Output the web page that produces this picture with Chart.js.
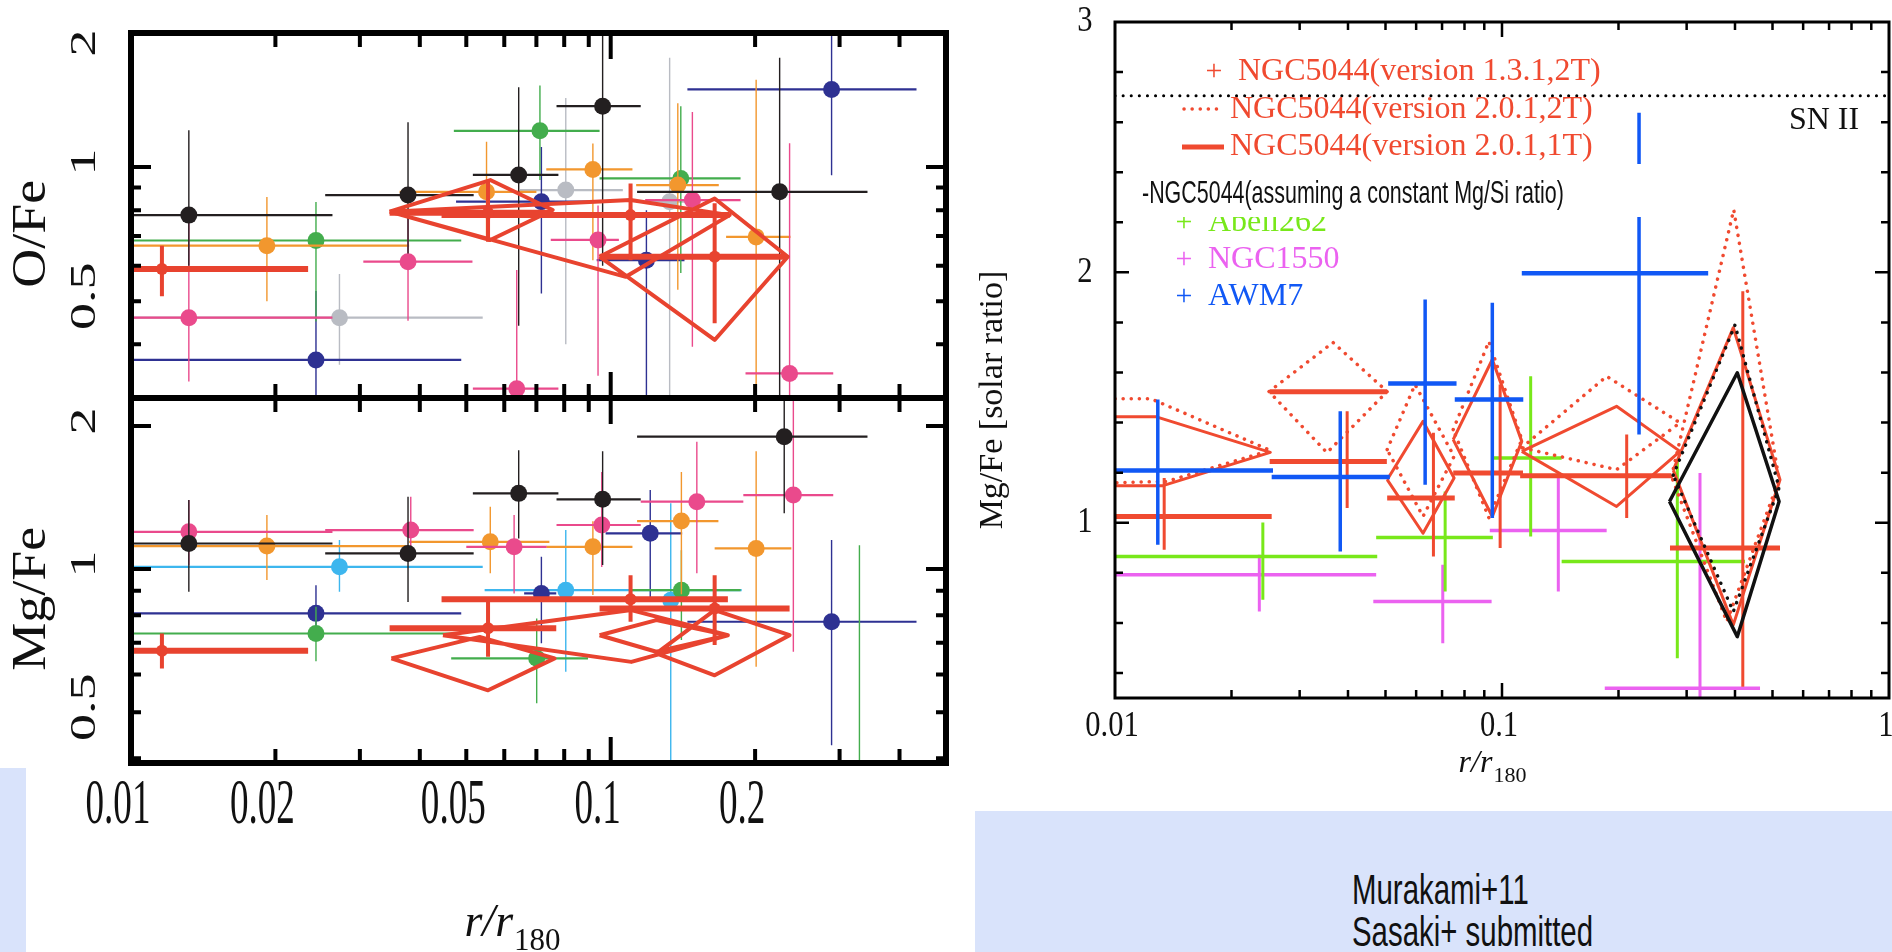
<!DOCTYPE html>
<html>
<head>
<meta charset="utf-8">
<title>O/Fe and Mg/Fe radial profiles</title>
<script src="https://cdn.jsdelivr.net/npm/chart.js@4.4.1/dist/chart.umd.min.js"></script>
<style>
html, body { margin: 0; padding: 0; background: #fff; overflow: hidden; }
#page { position: relative; width: 1892px; height: 952px; background: #fff; }
#page canvas { position: absolute; left: 0; top: 0; }
.band { position: absolute; background: #d9e3fb; }
#cite { position: absolute; left: 1352px; top: 869px; font-family: "Liberation Sans", Arial, sans-serif;
        font-size: 42px; line-height: 42px; color: #111; white-space: nowrap;
        transform: scaleX(0.7); transform-origin: left top; }
</style>
</head>
<body>
<div id="page">
  <div class="band" style="left:0;top:768px;width:26px;height:184px"></div>
  <div class="band" style="left:975px;top:811px;width:917px;height:141px"></div>
  <div id="cite">Murakami+11<br>Sasaki+ submitted</div>
  <canvas id="oFeChart" width="1892" height="952"></canvas>
  <canvas id="mgFeChart" width="1892" height="952"></canvas>
  <canvas id="sasakiChart" width="1892" height="952"></canvas>
</div>
<script>
var SERIF = '"Liberation Serif", "Times New Roman", serif';
var SANS = '"Liberation Sans", Arial, sans-serif';

// ---- Murakami+11 (left), rows: [r/r180, ratio, r low, r high, ratio low, ratio high]
var oFeBlack = [
  [0.0132, 0.78, 0.0101, 0.0263, 0.60, 1.21],
  [0.0378, 0.865, 0.0254, 0.0518, 0.64, 1.26],
  [0.0643, 0.96, 0.0516, 0.0778, 0.44, 1.51],
  [0.0962, 1.37, 0.0771, 0.1155, 0.60, 1.97],
  [0.225, 0.88, 0.1135, 0.343, 0.25, 1.76]
];
var oFeOrange = [
  [0.0192, 0.666, 0.0101, 0.038, 0.50, 0.857],
  [0.0551, 0.88, 0.0363, 0.070, 0.685, 1.14],
  [0.0918, 0.988, 0.0734, 0.111, 0.618, 1.13],
  [0.138, 0.911, 0.113, 0.168, 0.53, 1.39],
  [0.201, 0.697, 0.174, 0.237, 0.25, 1.57]
];
var oFeGreen = [
  [0.0243, 0.684, 0.0101, 0.0488, 0.45, 0.835],
  [0.0712, 1.206, 0.0471, 0.0948, 0.935, 1.524],
  [0.140, 0.943, 0.0948, 0.1865, 0.578, 1.37]
];
var oFePink = [
  [0.0132, 0.459, 0.0101, 0.0263, 0.33, 0.771],
  [0.0378, 0.613, 0.0305, 0.0515, 0.452, 0.771],
  [0.0637, 0.318, 0.0516, 0.0778, 0.25, 0.587],
  [0.0941, 0.686, 0.075, 0.104, 0.34, 0.82],
  [0.148, 0.843, 0.118, 0.1865, 0.395, 1.33],
  [0.236, 0.344, 0.191, 0.291, 0.25, 1.131]
];
var oFeGrey = [
  [0.0272, 0.459, 0.0101, 0.0541, 0.36, 0.575],
  [0.0806, 0.888, 0.0647, 0.106, 0.40, 1.43],
  [0.1327, 0.836, 0.118, 0.154, 0.25, 1.76]
];
var oFeNavy = [
  [0.0243, 0.369, 0.0101, 0.0488, 0.25, 0.527],
  [0.0717, 0.836, 0.0476, 0.0948, 0.52, 1.11],
  [0.1187, 0.618, 0.0935, 0.1425, 0.25, 0.80],
  [0.2887, 1.494, 0.1445, 0.434, 0.959, 2.0]
];
var oFeRed = [
  [0.0116, 0.59, 0.0101, 0.0234, 0.513, 0.666],
  [0.0555, 0.79, 0.0346, 0.0757, 0.68, 0.935],
  [0.110, 0.78, 0.0444, 0.177, 0.618, 0.919],
  [0.1647, 0.629, 0.0948, 0.232, 0.446, 0.829]
];
var oFeRedShapes = [
  [[0.0346, 0.794], [0.0561, 0.935], [0.0757, 0.801], [0.0561, 0.686], [0.0346, 0.794]],
  [[0.0346, 0.794], [0.110, 0.843], [0.177, 0.780], [0.1075, 0.567], [0.0346, 0.794]],
  [[0.0948, 0.629], [0.1647, 0.850], [0.234, 0.629], [0.1647, 0.409], [0.0948, 0.629]]
];

var mgFeBlack = [
  [0.0132, 1.132, 0.0101, 0.0263, 0.896, 1.397],
  [0.0378, 1.079, 0.0254, 0.0518, 0.853, 1.42],
  [0.0643, 1.443, 0.0516, 0.0778, 1.16, 1.778],
  [0.0962, 1.402, 0.0771, 0.1155, 1.02, 1.77],
  [0.230, 1.899, 0.1135, 0.343, 1.31, 2.4]
];
var mgFePink = [
  [0.0132, 1.198, 0.0101, 0.0263, 1.02, 1.397],
  [0.0383, 1.208, 0.0254, 0.0518, 1.06, 1.42],
  [0.0629, 1.114, 0.050, 0.0735, 0.889, 1.30],
  [0.0958, 1.238, 0.0771, 0.1155, 1.01, 1.60],
  [0.1512, 1.386, 0.1155, 0.189, 0.98, 1.853],
  [0.2403, 1.431, 0.189, 0.291, 0.67, 2.4]
];
var mgFeOrange = [
  [0.0192, 1.118, 0.0101, 0.038, 0.948, 1.30],
  [0.0561, 1.141, 0.038, 0.0745, 0.98, 1.353],
  [0.0918, 1.114, 0.0734, 0.111, 0.882, 1.26],
  [0.1404, 1.262, 0.1135, 0.1677, 0.885, 1.60],
  [0.201, 1.105, 0.1647, 0.238, 0.623, 1.77]
];
var mgFeCyan = [
  [0.0272, 1.011, 0.0101, 0.0541, 0.896, 1.151],
  [0.0806, 0.903, 0.0546, 0.1875, 0.608, 1.208],
  [0.1334, 0.86, 0.118, 0.152, 0.30, 1.375]
];
var mgFeNavy = [
  [0.0243, 0.807, 0.0101, 0.0488, 0.72, 0.925],
  [0.0717, 0.889, 0.066, 0.077, 0.698, 1.061],
  [0.1209, 1.189, 0.0976, 0.1409, 0.86, 1.467],
  [0.2887, 0.775, 0.1445, 0.434, 0.426, 1.151]
];
var mgFeGreen = [
  [0.0243, 0.732, 0.0101, 0.0488, 0.64, 0.833],
  [0.0701, 0.649, 0.0465, 0.0897, 0.522, 0.787],
  [0.1404, 0.903, 0.110, 0.1865, 0.709, 1.096],
  [0.330, 0.35, 0.30, 0.36, 0.30, 1.123]
];
var mgFeRed = [
  [0.0116, 0.673, 0.0101, 0.0234, 0.618, 0.732],
  [0.0555, 0.751, 0.0346, 0.077, 0.654, 0.853],
  [0.110, 0.864, 0.0444, 0.1755, 0.775, 0.971],
  [0.1647, 0.826, 0.0948, 0.236, 0.692, 0.971]
];
var mgFeRedShapes = [
  [[0.0349, 0.649], [0.0533, 0.720], [0.0764, 0.649], [0.0555, 0.556], [0.0349, 0.649]],
  [[0.0447, 0.726], [0.1104, 0.820], [0.1755, 0.726], [0.1104, 0.638], [0.0447, 0.726]],
  [[0.0948, 0.726], [0.1245, 0.781], [0.1755, 0.726], [0.1245, 0.670], [0.0948, 0.726]],
  [[0.1245, 0.665], [0.1647, 0.820], [0.236, 0.726], [0.1647, 0.598], [0.1245, 0.665]]
];

// ---- Sasaki+ (right)
var ngc5044Cross = [
  [0.0134, 1.025, 0.0099, 0.0254, 0.892, 1.179],
  [0.0398, 1.245, 0.0251, 0.0504, 1.059, 1.445],
  [0.0356, 1.523, 0.0251, 0.0505, 1.523, 1.523],
  [0.0665, 1.099, 0.0505, 0.0755, 0.865, 1.359],
  [0.0989, 1.199, 0.0748, 0.1133, 0.899, 1.552],
  [0.210, 1.188, 0.1114, 0.274, 1.019, 1.352],
  [0.419, 0.899, 0.2717, 0.5228, 0.345, 1.925]
];
var ngc5044Solid = [
  [[0.01, 1.423], [0.0128, 1.423], [0.0252, 1.281], [0.0133, 1.148], [0.01, 1.148]],
  [[0.0505, 1.172], [0.0625, 1.405], [0.0752, 1.179], [0.0625, 0.958], [0.0505, 1.172]],
  [[0.0748, 1.332], [0.0944, 1.652], [0.1125, 1.325], [0.0944, 1.025], [0.0748, 1.332]],
  [[0.1125, 1.285], [0.1977, 1.465], [0.2884, 1.285], [0.1977, 1.065], [0.1125, 1.285]],
  [[0.277, 1.21], [0.396, 1.779], [0.5228, 1.172], [0.396, 0.592], [0.277, 1.21]]
];
var ngc5044Dotted = [
  [[0.01, 1.495], [0.0124, 1.495], [0.0252, 1.289], [0.0136, 1.165], [0.01, 1.16]],
  [[0.025, 1.524], [0.0366, 1.72], [0.0505, 1.524], [0.0353, 1.28], [0.025, 1.524]],
  [[0.0505, 1.292], [0.0596, 1.552], [0.0752, 1.265], [0.0625, 1.025], [0.0505, 1.292]],
  [[0.0748, 1.372], [0.0925, 1.724], [0.1125, 1.332], [0.0925, 1.02], [0.0748, 1.372]],
  [[0.1125, 1.30], [0.1864, 1.585], [0.2884, 1.399], [0.1977, 1.212], [0.1125, 1.30]],
  [[0.2742, 1.185], [0.397, 2.25], [0.52, 1.172], [0.381, 0.605], [0.2742, 1.185]]
];
var constMgSiSolid = [
  [[0.2709, 1.085], [0.4055, 1.599], [0.52, 1.085], [0.4055, 0.545], [0.2709, 1.085]]
];
var constMgSiDotted = [
  [[0.277, 1.19], [0.40, 1.79], [0.52, 1.14], [0.396, 0.645], [0.277, 1.19]]
];
var abell262 = [
  [0.0241, 0.865, 0.01, 0.0476, 0.692, 1.001],
  [0.0713, 0.941, 0.0473, 0.0947, 0.725, 1.125],
  [0.1186, 1.259, 0.0948, 0.1426, 0.945, 1.585],
  [0.2838, 0.845, 0.1426, 0.4246, 0.459, 1.252]
];
var ngc1550 = [
  [0.0236, 0.792, 0.0099, 0.0473, 0.645, 0.872],
  [0.0703, 0.685, 0.0465, 0.094, 0.519, 0.832],
  [0.1398, 0.969, 0.093, 0.1864, 0.725, 1.199],
  [0.3248, 0.339, 0.1843, 0.4642, 0.25, 1.199]
];
var awm7 = [
  [0.0129, 1.209, 0.0099, 0.0256, 0.912, 1.492],
  [0.0382, 1.183, 0.0254, 0.0513, 0.885, 1.445],
  [0.0633, 1.556, 0.0508, 0.0763, 1.152, 1.892],
  [0.0944, 1.492, 0.0755, 0.1135, 1.019, 1.879],
  [0.226, 1.996, 0.1125, 0.341, 1.352, 2.638]
];
var snII = 2.705;

var leftXTicks = [0.01, 0.02, 0.05, 0.1, 0.2];
var leftYTicks = [0.5, 1, 2];
var rightXTicks = [0.01, 0.1, 1];
var rightYTicks = [1, 2, 3];

var C = { black: '#231f20', orange: '#f2972e', green: '#43ad4d', pink: '#ea4a8c', grey: '#b9bcc3',
          navy: '#2e3192', cyan: '#3db6ee', red: '#e8432f' };
var R = { red: '#f04a30', blue: '#1158f5', lime: '#78e81a', violet: '#eb62f0', black: '#111' };

// ---------------------------------------------------------
function gapJoin(parts) {
  var out = [];
  parts.forEach(function (p, i) {
    if (i) out.push({x: NaN, y: NaN});
    out.push.apply(out, p);
  });
  return out;
}
function hSegs(rows) {
  return gapJoin(rows.map(function (p) { return [{x: p[2], y: p[1]}, {x: p[3], y: p[1]}]; }));
}
function vSegs(rows) {
  return gapJoin(rows.map(function (p) { return [{x: p[0], y: p[4]}, {x: p[0], y: p[5]}]; }));
}
function mids(rows) {
  return rows.map(function (p) { return {x: p[0], y: p[1]}; });
}
function outline(shapes) {
  return gapJoin(shapes.map(function (s) {
    return s.map(function (c) { return {x: c[0], y: c[1]}; });
  }));
}
function lines(data, color, width, dash) {
  return {
    data: data, showLine: true, borderColor: color, borderWidth: width,
    borderDash: dash || [], borderCapStyle: dash ? 'round' : 'butt', borderJoinStyle: 'round',
    pointRadius: 0, pointHoverRadius: 0, tension: 0, spanGaps: false, clip: 0
  };
}
function dots(data, color, r) {
  return {
    data: data, showLine: false, pointRadius: r, pointHoverRadius: r,
    pointBackgroundColor: color, pointBorderWidth: 0, clip: 0
  };
}
function errorSeries(rows, color, hw, vw, r) {
  var s = [lines(hSegs(rows), color, hw), lines(vSegs(rows), color, vw)];
  if (r) s.push(dots(mids(rows), color, r));
  return s;
}
// datasets are listed bottom first, later ones drawn on top
function stackOrder(sets) {
  sets.forEach(function (d, i) { d.order = sets.length - i; });
  return sets;
}

function put(ctx, s, x, y, font, o) {
  o = o || {};
  ctx.save();
  ctx.translate(x, y);
  if (o.rot) ctx.rotate(o.rot);
  ctx.scale(o.sx || 1, o.sy || 1);
  ctx.font = font;
  ctx.fillStyle = o.color || '#111';
  ctx.textAlign = o.align || 'center';
  ctx.textBaseline = o.base || 'middle';
  ctx.fillText(s, 0, 0);
  ctx.restore();
}
function rOverR(ctx, cx, base, big, small) {
  ctx.save();
  ctx.fillStyle = '#111';
  ctx.textAlign = 'left';
  ctx.textBaseline = 'alphabetic';
  ctx.font = 'italic ' + big + 'px ' + SERIF;
  var w1 = ctx.measureText('r/r').width;
  ctx.font = small + 'px ' + SERIF;
  var w2 = ctx.measureText('180').width;
  var x0 = cx - (w1 + w2) / 2;
  ctx.font = 'italic ' + big + 'px ' + SERIF;
  ctx.fillText('r/r', x0, base);
  ctx.font = small + 'px ' + SERIF;
  ctx.fillText('180', x0 + w1 + 1, base + big * 0.3);
  ctx.restore();
}
function drawFrame(chart, f) {
  var ctx = chart.ctx, a = chart.chartArea, xs = chart.scales.x, ys = chart.scales.y;
  ctx.save();
  ctx.strokeStyle = '#000';
  ctx.lineWidth = f.tick;
  ctx.beginPath();
  function xTick(v, len) {
    var p = xs.getPixelForValue(v);
    ctx.moveTo(p, a.top); ctx.lineTo(p, a.top + len);
    ctx.moveTo(p, a.bottom); ctx.lineTo(p, a.bottom - len);
  }
  function yTick(v, len) {
    var p = ys.getPixelForValue(v);
    ctx.moveTo(a.left, p); ctx.lineTo(a.left + len, p);
    ctx.moveTo(a.right, p); ctx.lineTo(a.right - len, p);
  }
  f.xMinor.forEach(function (v) { xTick(v, f.xLen[0]); });
  f.xMajor.forEach(function (v) { xTick(v, f.xLen[1]); });
  f.yMinor.forEach(function (v) { yTick(v, f.yLen[0]); });
  f.yMajor.forEach(function (v) { yTick(v, f.yLen[1]); });
  ctx.stroke();
  ctx.lineWidth = f.width;
  ctx.strokeRect(a.left, a.top, a.right - a.left, a.bottom - a.top);
  ctx.restore();
}
function baseOptions(pad, xr, yr, yType) {
  return {
    responsive: false, animation: false, devicePixelRatio: 1, events: [],
    layout: { padding: pad },
    plugins: { legend: { display: false }, tooltip: { enabled: false } },
    scales: {
      x: { type: 'logarithmic', min: xr[0], max: xr[1], bounds: 'data', display: false },
      y: { type: yType, min: yr[0], max: yr[1], bounds: 'data', display: false }
    }
  };
}

var leftMinorX = [0.02, 0.03, 0.04, 0.05, 0.06, 0.07, 0.08, 0.09, 0.2, 0.3, 0.4];
var topFrame = { width: 6, tick: 4, xMinor: leftMinorX, xMajor: [0.1], xLen: [14, 26],
                 yMinor: [0.4, 0.5, 0.6, 0.7, 0.8, 0.9], yMajor: [1], yLen: [10, 20] };
var bottomFrame = { width: 6, tick: 4, xMinor: leftMinorX, xMajor: [0.1], xLen: [14, 26],
                    yMinor: [0.4, 0.5, 0.6, 0.7, 0.8, 0.9], yMajor: [1, 2], yLen: [10, 20] };
var rightFrame = { width: 3, tick: 2.5,
                   xMinor: [0.02, 0.03, 0.04, 0.05, 0.06, 0.07, 0.08, 0.09, 0.2, 0.3, 0.4, 0.5, 0.6, 0.7, 0.8, 0.9],
                   xMajor: [0.1], xLen: [8, 15],
                   yMinor: [0.4, 0.6, 0.8, 1.2, 1.4, 1.6, 1.8, 2.2, 2.4, 2.6, 2.8], yMajor: [1, 2], yLen: [8, 14] };

function leftYLabels(chart, title) {
  var ctx = chart.ctx, a = chart.chartArea, ys = chart.scales.y;
  leftYTicks.forEach(function (v) {
    var p = Math.max(ys.getPixelForValue(v) - 5, a.top + 10);
    put(ctx, String(v), 86, p, '54px ' + SERIF, { rot: -Math.PI / 2, sy: 0.66 });
  });
  put(ctx, title, 32, a.top + 0.55 * (a.bottom - a.top), '54px ' + SERIF, { rot: -Math.PI / 2, sy: 0.9 });
}

function leftSets(g) {
  var s = [];
  s = s.concat(errorSeries(g.grey || [], C.grey, 2.2, 1.4, 8.5));
  s = s.concat(errorSeries(g.cyan || [], C.cyan, 2.2, 1.4, 8.5));
  s = s.concat(errorSeries(g.navy, C.navy, 2.2, 1.4, 8.5));
  s = s.concat(errorSeries(g.green, C.green, 2.2, 1.4, 8.5));
  s = s.concat(errorSeries(g.orange, C.orange, 2.2, 1.4, 8.5));
  s = s.concat(errorSeries(g.pink, C.pink, 2.2, 1.4, 8.5));
  s = s.concat(errorSeries(g.black, C.black, 2.2, 1.4, 8.5));
  s.push(lines(outline(g.shapes), C.red, 4));
  s = s.concat(errorSeries(g.red, C.red, 6, 4, 6));
  return stackOrder(s);
}

// ---------- O/Fe panel
new Chart(document.getElementById('oFeChart'), {
  type: 'scatter',
  data: { datasets: leftSets({ grey: oFeGrey, navy: oFeNavy, green: oFeGreen, orange: oFeOrange,
                               pink: oFePink, black: oFeBlack, red: oFeRed, shapes: oFeRedShapes }) },
  options: baseOptions({ left: 131, top: 33, right: 946, bottom: 554 }, [0.01, 0.5], [0.303, 2.0], 'logarithmic'),
  plugins: [{
    id: 'oFeFrame',
    afterDatasetsDraw: function (chart) {
      drawFrame(chart, topFrame);
      leftYLabels(chart, 'O/Fe');
    }
  }]
});

// ---------- Mg/Fe panel
new Chart(document.getElementById('mgFeChart'), {
  type: 'scatter',
  data: { datasets: leftSets({ cyan: mgFeCyan, navy: mgFeNavy, green: mgFeGreen, orange: mgFeOrange,
                               pink: mgFePink, black: mgFeBlack, red: mgFeRed, shapes: mgFeRedShapes }) },
  options: baseOptions({ left: 131, top: 398, right: 946, bottom: 189 }, [0.01, 0.5], [0.391, 2.29], 'logarithmic'),
  plugins: [{
    id: 'mgFeFrame',
    afterDatasetsDraw: function (chart) {
      drawFrame(chart, bottomFrame);
      leftYLabels(chart, 'Mg/Fe');
      var xs = chart.scales.x;
      leftXTicks.forEach(function (v) {
        put(chart.ctx, String(v), xs.getPixelForValue(v) - 13, 806, '64px ' + SERIF, { sx: 0.58 });
      });
      rOverR(chart.ctx, 512, 936, 46, 31);
    }
  }]
});

// ---------- Sasaki+ Mg/Fe
var rightSets = [];
rightSets.push(lines([{x: 0.01, y: snII}, {x: 1, y: snII}], '#000', 3, [0.1, 8]));
rightSets = rightSets.concat(errorSeries(ngc1550, R.violet, 3.5, 3));
rightSets = rightSets.concat(errorSeries(abell262, R.lime, 3.5, 3));
rightSets.push(lines(outline(ngc5044Dotted), R.red, 3.5, [0.1, 8]));
rightSets.push(lines(outline(ngc5044Solid), R.red, 3));
rightSets = rightSets.concat(errorSeries(ngc5044Cross, R.red, 5, 3));
rightSets.push(lines(outline(constMgSiDotted), R.black, 3.5, [0.1, 8]));
rightSets.push(lines(outline(constMgSiSolid), R.black, 3.5));
rightSets = rightSets.concat(errorSeries(awm7, R.blue, 4.5, 3.5));
stackOrder(rightSets);

new Chart(document.getElementById('sasakiChart'), {
  type: 'scatter',
  data: { datasets: rightSets },
  options: baseOptions({ left: 1115, top: 22, right: 3, bottom: 254 }, [0.01, 1], [0.3, 3], 'linear'),
  plugins: [{
    id: 'sasakiFrame',
    afterDatasetsDraw: function (chart) {
      var ctx = chart.ctx, xs = chart.scales.x, ys = chart.scales.y;
      drawFrame(chart, rightFrame);
      rightYTicks.forEach(function (v) {
        put(ctx, String(v), 1085, ys.getPixelForValue(v), '36px ' + SERIF, { sx: 0.85 });
      });
      rightXTicks.forEach(function (v) {
        put(ctx, String(v), xs.getPixelForValue(v) - 3, 727, '36px ' + SERIF, { sx: 0.85 });
      });
      put(ctx, 'Mg/Fe [solar ratio]', 993, 400, '34px ' + SERIF, { rot: -Math.PI / 2 });
      rOverR(ctx, 1492, 772, 32, 22);
      put(ctx, 'SN II', 1824, 121, '32px ' + SERIF);

      // legend
      put(ctx, '+', 1214, 72, '30px ' + SERIF, { color: R.red });
      put(ctx, 'NGC5044(version 1.3.1,2T)', 1238, 72, '32px ' + SERIF, { color: R.red, align: 'left' });
      ctx.save();
      ctx.strokeStyle = R.red;
      ctx.lineWidth = 3.5; ctx.lineCap = 'round'; ctx.setLineDash([0.1, 8]);
      ctx.beginPath(); ctx.moveTo(1184, 109); ctx.lineTo(1223, 109); ctx.stroke();
      ctx.setLineDash([]); ctx.lineCap = 'butt'; ctx.lineWidth = 5;
      ctx.beginPath(); ctx.moveTo(1182, 147); ctx.lineTo(1224, 147); ctx.stroke();
      ctx.restore();
      put(ctx, 'NGC5044(version 2.0.1,2T)', 1230, 110, '32px ' + SERIF, { color: R.red, align: 'left' });
      put(ctx, 'NGC5044(version 2.0.1,1T)', 1230, 147, '32px ' + SERIF, { color: R.red, align: 'left' });
      put(ctx, '+', 1184, 223, '30px ' + SERIF, { color: R.lime });
      put(ctx, 'Abell262', 1208, 223, '32px ' + SERIF, { color: R.lime, align: 'left' });
      put(ctx, '+', 1184, 260, '30px ' + SERIF, { color: R.violet });
      put(ctx, 'NGC1550', 1208, 260, '32px ' + SERIF, { color: R.violet, align: 'left' });
      put(ctx, '+', 1184, 297, '30px ' + SERIF, { color: R.blue });
      put(ctx, 'AWM7', 1208, 297, '32px ' + SERIF, { color: R.blue, align: 'left' });

      ctx.save();
      ctx.fillStyle = '#fff';
      ctx.fillRect(1138, 164, 540, 53);
      ctx.restore();
      put(ctx, '-NGC5044(assuming a constant Mg/Si ratio)', 1142, 194, '32px ' + SANS,
          { align: 'left', sx: 0.67, color: '#111' });
    }
  }]
});
</script>
</body>
</html>
